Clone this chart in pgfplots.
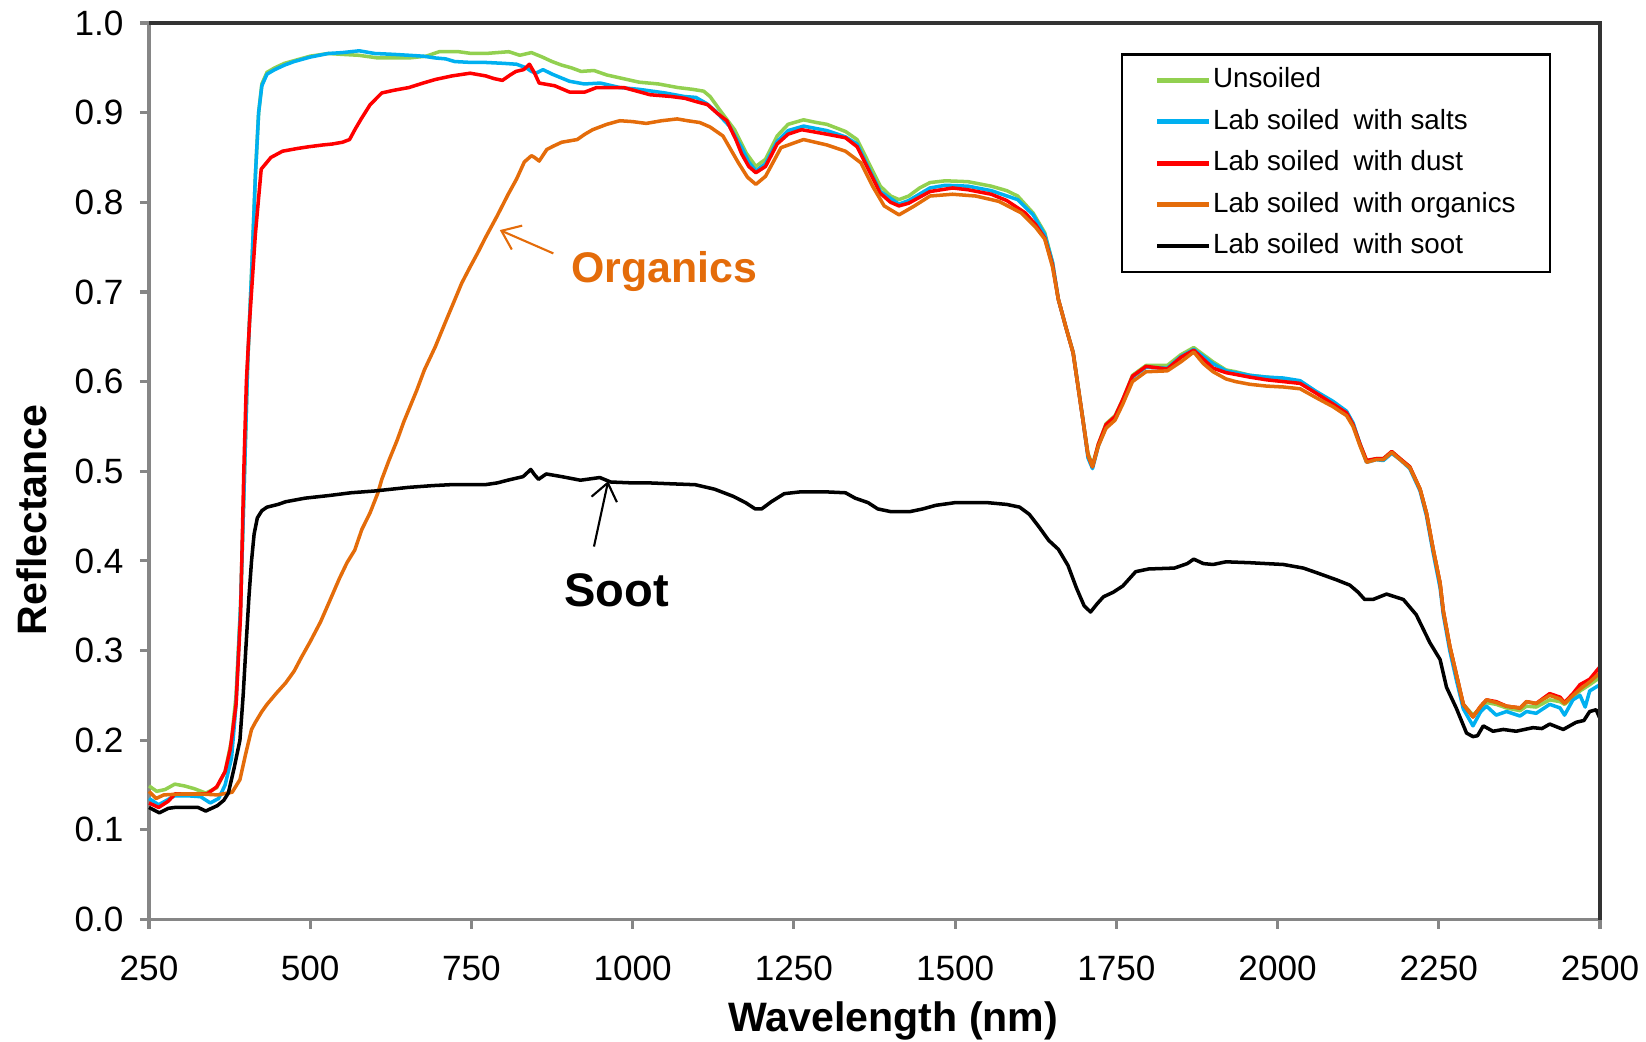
\documentclass[border=0pt]{standalone}
\usepackage{fontspec}
\setmainfont{Liberation Sans}
\usepackage{pgfplots}
\pgfplotsset{compat=1.18}
\usetikzlibrary{arrows.meta}
\definecolor{cUnsoiled}{RGB}{146,208,80}
\definecolor{cSalts}{RGB}{0,176,240}
\definecolor{cDust}{RGB}{255,0,0}
\definecolor{cOrg}{RGB}{228,108,10}
\definecolor{axgray}{RGB}{134,134,134}
\newcommand{\ls}{\hspace{0.5em}}
\begin{document}
\begin{tikzpicture}
\useasboundingbox (-1.49,-1.215) rectangle (14.97,9.195);
\begin{axis}[
  at={(0,0)}, anchor=south west,
  scale only axis, width=14.51cm, height=8.965cm,
  xmin=250, xmax=2500, ymin=0, ymax=1,
  xtick={250,500,750,1000,1250,1500,1750,2000,2250,2500},
  ytick={0,0.1,0.2,0.3,0.4,0.5,0.6,0.7,0.8,0.9,1.0},
  axis x line*=bottom, axis y line*=left,
  axis line style={-, draw=axgray, line width=0.9pt},
  tick align=outside, major tick length=2.6pt,
  tick style={draw=axgray, line width=0.9pt},
  /pgf/number format/assume math mode=true,
  ticklabel style={font=\fontsize{10}{12}\selectfont},
  yticklabel style={xshift=-0.04cm, /pgf/number format/.cd, fixed, fixed zerofill, precision=1},
  xticklabel style={yshift=-0.15cm, /pgf/number format/.cd, set thousands separator={}},
  xlabel={Wavelength (nm)}, ylabel={Reflectance},
  every axis x label/.style={at={(axis description cs:0.513,-0.113)}, anchor=center, font=\bfseries\fontsize{11.7}{14}\selectfont},
  every axis y label/.style={at={(axis description cs:-0.081,0.446)}, rotate=90, anchor=center, font=\bfseries\fontsize{11.7}{14}\selectfont},
  clip=false,
  legend cell align=left,
  legend style={at={(rel axis cs:0.9665,0.966)}, anchor=north east, draw=black, line width=0.6pt,
    font=\fontsize{7.9}{9}\selectfont, inner xsep=0.33cm, inner ysep=0.05cm,
    nodes={inner xsep=0.5pt, inner ysep=2pt, text height=6pt, text depth=1.8pt}},
  legend image code/.code={\draw[#1, line width=1.3pt] (0cm,0cm) -- (0.52cm,0cm);},
  every axis plot/.append style={line width=1pt, line join=round},
]
\addplot[cUnsoiled] coordinates {
(250,0.149)(262,0.143)(275,0.145)(290,0.151)(305,0.149)(320,0.146)(338,0.141)(355,0.147)(368,0.165)(378,0.2)(385,0.25)(392,0.35)(397,0.47)(403,0.62)(409,0.72)(415,0.83)(420,0.9)(425,0.932)(433,0.945)(445,0.95)(460,0.955)(475,0.958)(500,0.963)(528,0.966)(550,0.965)(575,0.964)(605,0.961)(630,0.961)(653,0.961)(680,0.963)(700,0.968)(730,0.968)(750,0.966)(772,0.966)(790,0.967)(808,0.968)(825,0.964)(843,0.967)(860,0.962)(875,0.957)(890,0.953)(905,0.95)(920,0.946)(940,0.947)(960,0.942)(985,0.938)(1010,0.934)(1040,0.932)(1070,0.928)(1093,0.926)(1110,0.924)(1120,0.918)(1135,0.903)(1158,0.881)(1176,0.855)(1191,0.84)(1206,0.848)(1224,0.874)(1241,0.887)(1265,0.892)(1285,0.889)(1301,0.887)(1330,0.879)(1348,0.87)(1366,0.844)(1384,0.818)(1400,0.807)(1413,0.803)(1428,0.807)(1445,0.816)(1461,0.822)(1485,0.824)(1520,0.823)(1556,0.818)(1580,0.813)(1597,0.807)(1621,0.788)(1639,0.766)(1651,0.733)(1660,0.692)(1672,0.66)(1683,0.633)(1698,0.559)(1706,0.52)(1713,0.507)(1722,0.53)(1734,0.553)(1748,0.562)(1760,0.58)(1775,0.607)(1796,0.618)(1829,0.618)(1850,0.63)(1870,0.638)(1885,0.63)(1900,0.622)(1920,0.613)(1935,0.611)(1957,0.607)(1983,0.605)(2009,0.603)(2035,0.6)(2060,0.588)(2086,0.576)(2107,0.565)(2117,0.553)(2128,0.53)(2138,0.512)(2153,0.514)(2164,0.514)(2177,0.522)(2190,0.514)(2205,0.505)(2221,0.48)(2231,0.453)(2241,0.414)(2252,0.375)(2257,0.344)(2267,0.305)(2277,0.274)(2288,0.24)(2303,0.228)(2315,0.236)(2324,0.242)(2339,0.24)(2355,0.236)(2376,0.233)(2386,0.238)(2401,0.237)(2422,0.245)(2438,0.243)(2445,0.24)(2458,0.248)(2469,0.255)(2484,0.262)(2500,0.27)
};
\addlegendentry{Unsoiled}
\addplot[cSalts] coordinates {
(250,0.135)(265,0.128)(280,0.134)(290,0.138)(310,0.138)(330,0.137)(345,0.13)(358,0.135)(368,0.15)(378,0.18)(385,0.24)(392,0.35)(397,0.47)(403,0.62)(409,0.72)(415,0.83)(420,0.9)(425,0.93)(433,0.943)(445,0.948)(460,0.953)(475,0.957)(500,0.962)(528,0.966)(550,0.967)(576,0.969)(600,0.966)(630,0.965)(653,0.964)(675,0.963)(694,0.961)(710,0.96)(724,0.957)(750,0.956)(772,0.956)(800,0.955)(820,0.954)(835,0.95)(843,0.946)(850,0.944)(861,0.948)(875,0.943)(902,0.935)(925,0.932)(950,0.933)(980,0.928)(1010,0.926)(1050,0.922)(1080,0.918)(1098,0.917)(1115,0.91)(1128,0.902)(1150,0.885)(1169,0.861)(1180,0.845)(1191,0.835)(1206,0.843)(1224,0.868)(1241,0.88)(1265,0.885)(1301,0.88)(1330,0.873)(1348,0.865)(1366,0.838)(1384,0.812)(1413,0.798)(1428,0.802)(1461,0.816)(1485,0.819)(1520,0.818)(1556,0.813)(1597,0.803)(1621,0.786)(1639,0.764)(1651,0.733)(1660,0.692)(1672,0.66)(1683,0.632)(1698,0.558)(1706,0.515)(1713,0.503)(1722,0.528)(1734,0.551)(1748,0.56)(1760,0.578)(1775,0.605)(1796,0.616)(1829,0.615)(1850,0.628)(1870,0.636)(1885,0.628)(1900,0.62)(1920,0.612)(1935,0.61)(1957,0.607)(1983,0.605)(2009,0.604)(2035,0.601)(2060,0.589)(2086,0.578)(2107,0.567)(2117,0.554)(2128,0.53)(2138,0.51)(2153,0.513)(2164,0.512)(2177,0.52)(2190,0.513)(2205,0.503)(2221,0.478)(2231,0.45)(2241,0.41)(2252,0.37)(2257,0.34)(2267,0.3)(2277,0.268)(2288,0.235)(2303,0.216)(2315,0.232)(2324,0.238)(2339,0.228)(2355,0.232)(2376,0.227)(2386,0.232)(2401,0.23)(2422,0.24)(2438,0.236)(2445,0.228)(2458,0.245)(2469,0.25)(2477,0.237)(2484,0.255)(2500,0.262)
};
\addlegendentry{Lab soiled\ls with salts}
\addplot[cDust] coordinates {
(250,0.13)(265,0.125)(280,0.132)(290,0.14)(310,0.14)(340,0.14)(355,0.148)(368,0.165)(376,0.19)(385,0.24)(392,0.34)(397,0.5)(401,0.6)(406,0.668)(415,0.765)(424,0.837)(439,0.85)(457,0.857)(480,0.86)(498,0.862)(520,0.864)(534,0.865)(550,0.867)(561,0.87)(570,0.882)(579,0.893)(593,0.909)(611,0.922)(630,0.925)(653,0.928)(675,0.933)(694,0.937)(720,0.941)(748,0.944)(772,0.941)(785,0.938)(798,0.936)(810,0.942)(819,0.946)(831,0.948)(840,0.954)(848,0.944)(855,0.933)(879,0.93)(902,0.923)(926,0.923)(944,0.928)(986,0.928)(1027,0.92)(1060,0.918)(1081,0.916)(1100,0.912)(1116,0.909)(1130,0.9)(1146,0.891)(1160,0.87)(1169,0.854)(1180,0.84)(1191,0.833)(1206,0.84)(1224,0.865)(1241,0.876)(1262,0.881)(1301,0.876)(1330,0.872)(1348,0.862)(1366,0.836)(1384,0.81)(1400,0.8)(1413,0.796)(1428,0.799)(1461,0.812)(1496,0.816)(1520,0.814)(1556,0.809)(1580,0.802)(1609,0.788)(1625,0.775)(1639,0.76)(1651,0.73)(1660,0.692)(1672,0.66)(1683,0.632)(1698,0.558)(1706,0.518)(1713,0.505)(1722,0.53)(1734,0.552)(1748,0.561)(1760,0.58)(1775,0.606)(1796,0.617)(1829,0.614)(1850,0.627)(1870,0.635)(1885,0.625)(1900,0.615)(1920,0.61)(1935,0.608)(1957,0.605)(1983,0.602)(2009,0.6)(2035,0.598)(2060,0.587)(2086,0.575)(2107,0.565)(2117,0.552)(2128,0.53)(2138,0.512)(2153,0.514)(2164,0.514)(2177,0.522)(2190,0.514)(2205,0.505)(2221,0.48)(2231,0.453)(2241,0.414)(2252,0.375)(2257,0.344)(2267,0.305)(2277,0.274)(2288,0.24)(2303,0.226)(2315,0.238)(2324,0.245)(2339,0.243)(2355,0.238)(2376,0.236)(2386,0.243)(2401,0.241)(2422,0.252)(2438,0.248)(2445,0.242)(2458,0.252)(2469,0.262)(2484,0.268)(2500,0.282)
};
\addlegendentry{Lab soiled\ls with dust}
\addplot[cOrg] coordinates {
(250,0.143)(261,0.135)(273,0.139)(300,0.14)(330,0.14)(356,0.139)(379,0.142)(391,0.156)(400,0.185)(409,0.212)(415,0.22)(425,0.232)(433,0.24)(447,0.252)(462,0.264)(475,0.277)(486,0.292)(500,0.31)(516,0.332)(530,0.355)(545,0.38)(557,0.398)(569,0.412)(580,0.435)(593,0.454)(605,0.476)(611,0.491)(622,0.512)(635,0.535)(645,0.555)(653,0.569)(665,0.59)(677,0.613)(694,0.639)(710,0.667)(724,0.691)(735,0.71)(748,0.728)(760,0.744)(772,0.761)(790,0.785)(807,0.809)(820,0.826)(832,0.845)(843,0.852)(848,0.85)(855,0.846)(867,0.859)(878,0.863)(890,0.867)(914,0.87)(926,0.876)(938,0.881)(960,0.887)(980,0.891)(1000,0.89)(1021,0.888)(1045,0.891)(1069,0.893)(1085,0.891)(1104,0.889)(1120,0.884)(1140,0.874)(1164,0.844)(1178,0.828)(1191,0.82)(1206,0.829)(1230,0.861)(1265,0.87)(1301,0.864)(1330,0.857)(1354,0.844)(1372,0.818)(1390,0.796)(1413,0.786)(1437,0.796)(1461,0.807)(1496,0.809)(1532,0.807)(1568,0.801)(1603,0.788)(1625,0.772)(1639,0.759)(1651,0.728)(1660,0.692)(1672,0.66)(1683,0.632)(1698,0.558)(1706,0.518)(1713,0.505)(1722,0.528)(1734,0.548)(1748,0.557)(1760,0.575)(1775,0.6)(1796,0.611)(1829,0.612)(1850,0.622)(1870,0.633)(1885,0.62)(1900,0.611)(1920,0.603)(1935,0.6)(1957,0.597)(1983,0.595)(2009,0.594)(2035,0.592)(2060,0.582)(2086,0.572)(2107,0.562)(2117,0.55)(2128,0.528)(2138,0.51)(2153,0.513)(2164,0.513)(2177,0.521)(2190,0.513)(2205,0.504)(2221,0.48)(2231,0.453)(2241,0.414)(2252,0.375)(2257,0.344)(2267,0.305)(2277,0.274)(2288,0.24)(2303,0.226)(2315,0.238)(2324,0.245)(2339,0.242)(2355,0.238)(2376,0.236)(2386,0.243)(2401,0.241)(2422,0.25)(2438,0.246)(2445,0.241)(2458,0.25)(2469,0.257)(2484,0.265)(2500,0.275)
};
\addlegendentry{Lab soiled\ls with organics}
\addplot[black] coordinates {
(250,0.125)(266,0.119)(280,0.124)(290,0.125)(310,0.125)(326,0.125)(338,0.121)(356,0.127)(366,0.133)(373,0.141)(382,0.169)(391,0.2)(396,0.25)(400,0.3)(405,0.36)(409,0.4)(413,0.43)(418,0.448)(425,0.456)(433,0.46)(450,0.463)(462,0.466)(492,0.47)(530,0.473)(563,0.476)(600,0.478)(652,0.482)(690,0.484)(717,0.485)(771,0.485)(790,0.487)(806,0.49)(830,0.494)(842,0.502)(848,0.496)(854,0.491)(866,0.497)(890,0.494)(919,0.49)(949,0.493)(966,0.488)(1000,0.487)(1026,0.487)(1060,0.486)(1097,0.485)(1127,0.48)(1156,0.472)(1175,0.465)(1190,0.458)(1200,0.458)(1215,0.466)(1235,0.475)(1260,0.477)(1300,0.477)(1330,0.476)(1345,0.47)(1365,0.465)(1380,0.458)(1400,0.455)(1430,0.455)(1450,0.458)(1470,0.462)(1500,0.465)(1550,0.465)(1580,0.463)(1600,0.46)(1615,0.452)(1630,0.438)(1645,0.423)(1660,0.413)(1675,0.395)(1688,0.37)(1700,0.35)(1710,0.343)(1720,0.352)(1730,0.36)(1745,0.365)(1760,0.372)(1780,0.388)(1800,0.391)(1840,0.392)(1860,0.397)(1870,0.402)(1885,0.397)(1900,0.396)(1920,0.399)(1957,0.398)(2009,0.396)(2040,0.392)(2060,0.387)(2091,0.379)(2112,0.373)(2125,0.365)(2135,0.357)(2148,0.357)(2169,0.363)(2182,0.36)(2195,0.357)(2215,0.34)(2236,0.309)(2252,0.29)(2262,0.259)(2277,0.236)(2293,0.208)(2303,0.204)(2310,0.205)(2319,0.216)(2334,0.21)(2350,0.212)(2370,0.21)(2396,0.214)(2410,0.213)(2422,0.218)(2443,0.212)(2463,0.22)(2475,0.222)(2484,0.232)(2494,0.234)(2500,0.224)
};
\addlegendentry{Lab soiled\ls with soot}
% top and right frame
\draw[black!80, line width=0.9pt] (rel axis cs:0,1) -- (rel axis cs:1,1) -- (rel axis cs:1,0);
% annotations
\draw[cOrg, line width=0.6pt, -{Straight Barb[length=1.7mm,width=2.6mm]}] (axis cs:877,0.743) -- (axis cs:794,0.769);
\node[text=cOrg, font=\bfseries\fontsize{12.2}{14}\selectfont] at (axis cs:1049,0.7225) {Organics};
\draw[black, line width=0.6pt, -{Straight Barb[length=1.7mm,width=2.6mm]}] (axis cs:940,0.416) -- (axis cs:962,0.489);
\node[font=\bfseries\fontsize{13.4}{16}\selectfont] at (axis cs:975,0.367) {Soot};
\end{axis}
\end{tikzpicture}
\end{document}
